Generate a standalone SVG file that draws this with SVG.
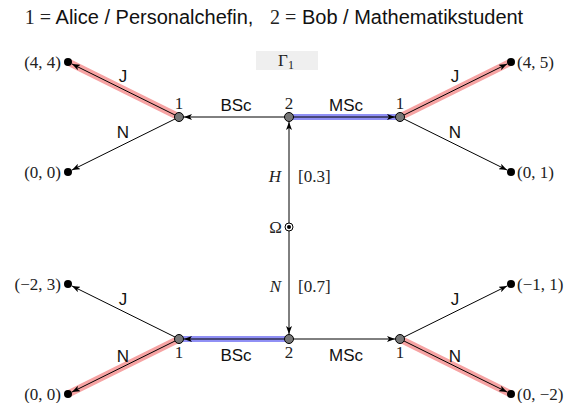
<svg xmlns="http://www.w3.org/2000/svg" width="573" height="403" viewBox="0 0 573 403">
<defs>
<marker id="ah" viewBox="0 0 8 6" refX="8" refY="3" markerWidth="8" markerHeight="6" markerUnits="userSpaceOnUse" orient="auto">
<path d="M0,0 L8,3 L0,6 L2,3 Z" fill="#000"/>
</marker>
<style>
.e{stroke:#000;stroke-width:1;fill:none;marker-end:url(#ah)}
.hr{stroke:#f6a3a3;stroke-width:7;stroke-linecap:butt;fill:none}
.hb{stroke:#9090f5;stroke-width:6;fill:none}
.dn{fill:#777;stroke:#000;stroke-width:1}
.tm{fill:#000}
.tl{font-family:"Liberation Serif","DejaVu Serif",serif;font-size:17px;fill:#222}
.sans{font-family:"Liberation Sans",Arial,sans-serif;font-size:17px;fill:#111}
.it{font-family:"Liberation Serif",serif;font-style:italic;font-size:17px;fill:#222}
.num{font-family:"Liberation Serif",serif;font-size:17px;fill:#222}
</style>
</defs>
<text x="274" y="24" text-anchor="middle" xml:space="preserve" font-size="20"><tspan font-family="Liberation Serif,serif" fill="#222">1 =</tspan><tspan font-family="Liberation Sans,Arial,sans-serif" fill="#111"> Alice / Personalchefin,   </tspan><tspan font-family="Liberation Serif,serif" fill="#222">2 =</tspan><tspan font-family="Liberation Sans,Arial,sans-serif" fill="#111"> Bob / Mathematikstudent</tspan></text>
<g id="gamma">
<rect x="256" y="51" width="62" height="19" fill="#efefef"/>
<text x="286" y="66" text-anchor="middle" class="num">Γ<tspan font-size="12" dy="3">1</tspan></text>
</g>
<g id="connectors">
<path class="hr" d="M179,117 L68,62"/>
<path class="hr" d="M400,117 L511,62"/>
<path class="hr" d="M179,339 L68,394"/>
<path class="hr" d="M400,339 L511,394"/>
<path class="hb" d="M289,117 L400,117"/>
<path class="hb" d="M179,339 L289,339"/>
<path class="e" d="M179,117 L72,64"/>
<path class="e" d="M179,117 L72,170"/>
<path class="e" d="M289,117 L184,117"/>
<path class="e" d="M289,117 L395,117"/>
<path class="e" d="M400,117 L507,64"/>
<path class="e" d="M400,117 L507,170"/>
<path class="e" d="M289,227 L289,122"/>
<path class="e" d="M289,227 L289,334"/>
<path class="e" d="M179,339 L72,286"/>
<path class="e" d="M179,339 L72,392"/>
<path class="e" d="M289,339 L184,339"/>
<path class="e" d="M289,339 L395,339"/>
<path class="e" d="M400,339 L507,286"/>
<path class="e" d="M400,339 L507,392"/>
<text class="sans" x="123" y="82" text-anchor="middle">J</text>
<text class="sans" x="123" y="138" text-anchor="middle">N</text>
<text class="sans" x="236" y="111" text-anchor="middle">BSc</text>
<text class="sans" x="346" y="111" text-anchor="middle">MSc</text>
<text class="sans" x="455" y="82" text-anchor="middle">J</text>
<text class="sans" x="455" y="138" text-anchor="middle">N</text>
<text class="it" x="281" y="182" text-anchor="end">H</text>
<text class="num" x="298" y="182">[0.3]</text>
<text class="it" x="281" y="292" text-anchor="end">N</text>
<text class="num" x="298" y="292">[0.7]</text>
<text class="sans" x="123" y="305" text-anchor="middle">J</text>
<text class="sans" x="123" y="362" text-anchor="middle">N</text>
<text class="sans" x="236" y="361" text-anchor="middle">BSc</text>
<text class="sans" x="346" y="361" text-anchor="middle">MSc</text>
<text class="sans" x="455" y="305" text-anchor="middle">J</text>
<text class="sans" x="455" y="362" text-anchor="middle">N</text>
</g>
<g id="n_top_1"><circle class="dn" cx="179" cy="117" r="4.5"/><text class="num" x="179" y="109" text-anchor="middle">1</text></g>
<g id="n_top_2"><circle class="dn" cx="289" cy="117" r="4.5"/><text class="num" x="289" y="109" text-anchor="middle">2</text></g>
<g id="n_top_3"><circle class="dn" cx="400" cy="117" r="4.5"/><text class="num" x="400" y="109" text-anchor="middle">1</text></g>
<g id="n_bot_1"><circle class="dn" cx="179" cy="339" r="4.5"/><text class="num" x="179" y="358" text-anchor="middle">1</text></g>
<g id="n_bot_2"><circle class="dn" cx="289" cy="339" r="4.5"/><text class="num" x="289" y="358" text-anchor="middle">2</text></g>
<g id="n_bot_3"><circle class="dn" cx="400" cy="339" r="4.5"/><text class="num" x="400" y="358" text-anchor="middle">1</text></g>
<g id="omega"><circle cx="289" cy="227" r="4" fill="#fff" stroke="#000" stroke-width="1"/><circle cx="289" cy="227" r="2" fill="#000"/><text class="num" x="282" y="233" text-anchor="end">Ω</text></g>
<g id="t44"><circle class="tm" cx="68" cy="62" r="4"/><text class="tl" x="61" y="68" text-anchor="end">(4, 4)</text></g>
<g id="t00a"><circle class="tm" cx="68" cy="172" r="4"/><text class="tl" x="61" y="178" text-anchor="end">(0, 0)</text></g>
<g id="t45"><circle class="tm" cx="511" cy="62" r="4"/><text class="tl" x="517" y="68">(4, 5)</text></g>
<g id="t01"><circle class="tm" cx="511" cy="172" r="4"/><text class="tl" x="517" y="178">(0, 1)</text></g>
<g id="tm23"><circle class="tm" cx="68" cy="284" r="4"/><text class="tl" x="61" y="290" text-anchor="end">(−2, 3)</text></g>
<g id="t00b"><circle class="tm" cx="68" cy="394" r="4"/><text class="tl" x="61" y="400" text-anchor="end">(0, 0)</text></g>
<g id="tm11"><circle class="tm" cx="511" cy="284" r="4"/><text class="tl" x="517" y="290">(−1, 1)</text></g>
<g id="t0m2"><circle class="tm" cx="511" cy="394" r="4"/><text class="tl" x="517" y="400">(0, −2)</text></g>
</svg>
